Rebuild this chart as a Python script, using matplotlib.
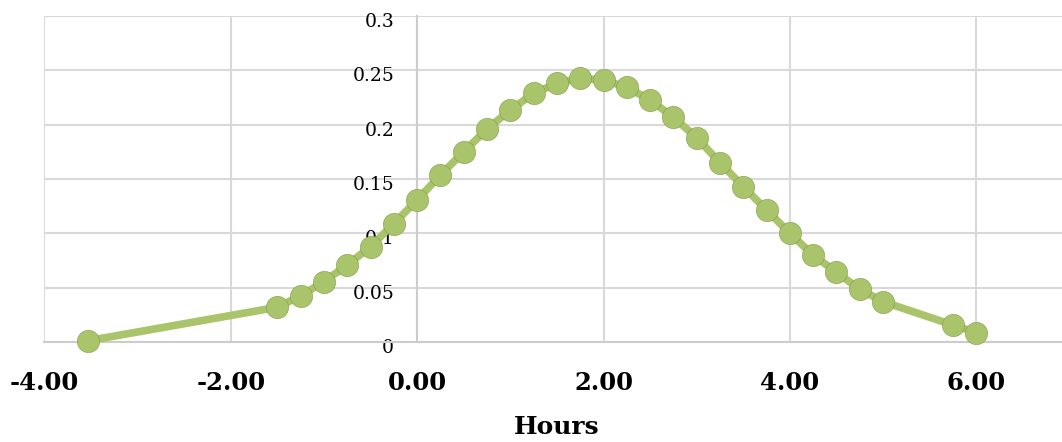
import matplotlib.pyplot as plt
from matplotlib.transforms import ScaledTranslation

# hours relative to dose and concentration
hours = [-3.53, -1.5, -1.25, -1.0, -0.75, -0.5, -0.25, 0.0, 0.25, 0.5, 0.75, 1.0, 1.25,
         1.5, 1.75, 2.0, 2.25, 2.5, 2.75, 3.0, 3.25, 3.5, 3.75, 4.0, 4.25, 4.5, 4.75, 5.0,
         5.75, 6.0]
conc = [0.0012, 0.032, 0.0426, 0.0555, 0.0709, 0.0877, 0.109, 0.1307, 0.1537, 0.1751,
        0.196, 0.2135, 0.2289, 0.238, 0.2427, 0.2411, 0.2344, 0.2227, 0.2068, 0.188,
        0.165, 0.1429, 0.1215, 0.100, 0.080, 0.0641, 0.0485, 0.0371, 0.0156, 0.0086]
xticks = [-4, -2, 0, 2, 4, 6]
yticks = [0, 0.05, 0.1, 0.15, 0.2, 0.25, 0.3]
ytick_labels = ['0', '0.05', '0.1', '0.15', '0.2', '0.25', '0.3']

green = '#A9C46B'
grid = '#D9D9D9'
axis_grey = '#CCCCCC'

fig = plt.figure(figsize=(10.62, 4.42), dpi=100)
ax = fig.add_axes([44.4 / 1062, 100 / 442, (1062 - 44.4) / 1062, 326 / 442])

# move the y axis to x=0 first, it resets the tick styling
ax.spines['left'].set_position(('data', 0))
ax.spines['left'].set_color(axis_grey)
ax.spines['left'].set_linewidth(1.5)
ax.spines['bottom'].set_color(axis_grey)
ax.spines['bottom'].set_linewidth(1.5)
ax.spines['top'].set_visible(False)
ax.spines['right'].set_visible(False)

ax.plot(hours, conc, color=green, linewidth=5.5, marker='o', markersize=16,
        markerfacecolor=green, markeredgecolor='#7d9a45', markeredgewidth=0.4,
        zorder=3, clip_on=False)

ax.set_xlim(-4, 6.92)
ax.set_ylim(0, 0.3)
ax.set_xticks(xticks)
ax.set_xticklabels([f'{t:.2f}' for t in xticks], fontfamily='DejaVu Serif',
                   fontweight='bold', fontsize=17.5)
ax.set_yticks(yticks)
ax.set_yticklabels(ytick_labels, fontfamily='DejaVu Serif', fontsize=13.5)
ax.tick_params(axis='x', length=0, pad=21)
ax.tick_params(axis='y', length=0, pad=16.5)

# y labels sit a little below their gridlines
shift = ScaledTranslation(0, -4 / 100, fig.dpi_scale_trans)
for lab in ax.get_yticklabels():
    lab.set_transform(lab.get_transform() + shift)

ax.grid(True, color=grid, linewidth=1.5, zorder=0)
ax.set_axisbelow(True)

fig.text(557 / 1062, 1 - 427 / 442, 'Hours', ha='center', va='center',
         fontfamily='DejaVu Serif', fontweight='bold', fontsize=18)

fig.savefig('out.png', dpi=100)
